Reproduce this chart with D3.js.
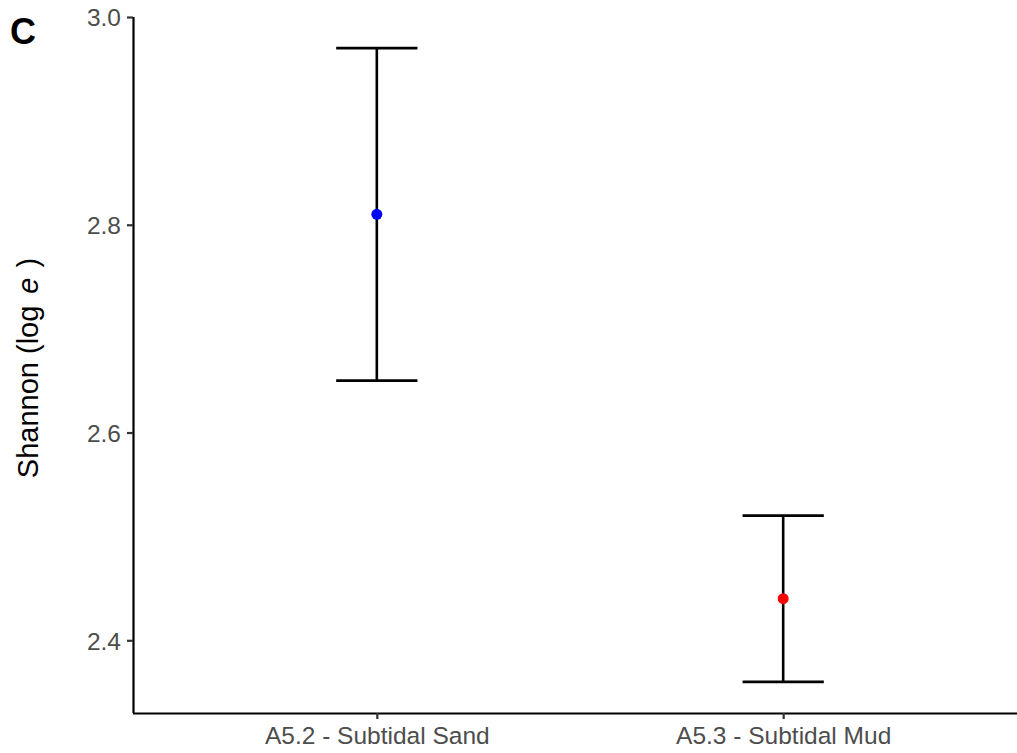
<!DOCTYPE html>
<html>
<head>
<meta charset="utf-8">
<script src="https://cdn.jsdelivr.net/npm/d3@7"></script>
<style>
  html, body { margin: 0; padding: 0; background: #fff; }
  svg { display: block; font-family: "Liberation Sans", Arial, sans-serif; }
</style>
</head>
<body>
<svg id="chart" width="1017" height="753"></svg>
<script>
// Shannon diversity by habitat: mean with lower/upper interval
const habitats = ["A5.2 - Subtidal Sand", "A5.3 - Subtidal Mud"];
const shannonMean = [2.81, 2.44];
const shannonLower = [2.65, 2.36];
const shannonUpper = [2.97, 2.52];
const pointColors = ["#0000FF", "#FF0000"];
const yTicks = [2.4, 2.6, 2.8, 3.0];

const W = 1017, H = 753;
const panel = { left: 133, top: 17, bottom: 713 };

const svg = d3.select("#chart");

// Discrete positions 1..n with 0.6 unit padding each side
const x = d3.scaleLinear().domain([0.4, habitats.length + 0.6]).range([panel.left, 1027]);
const y = d3.scaleLinear().domain([2.33, 3.0]).range([panel.bottom, panel.top]);

const capHalf = 0.1; // half-width of error bar caps, in category units

// Axes
const yAxis = svg.append("g")
  .attr("transform", `translate(${panel.left},0)`)
  .call(d3.axisLeft(y).tickValues(yTicks).tickFormat(d3.format(".1f")).tickSize(6).tickSizeOuter(0));
const xAxis = svg.append("g")
  .attr("transform", `translate(0,${panel.bottom})`)
  .call(d3.axisBottom(x).tickValues(habitats.map((d, i) => i + 1))
        .tickFormat((d, i) => habitats[i]).tickSize(6).tickSizeOuter(0));

[yAxis, xAxis].forEach(g => {
  g.select(".domain").attr("stroke", "#000").attr("stroke-width", 2.2);
  g.selectAll(".tick line").attr("stroke", "#333").attr("stroke-width", 2.2);
  g.selectAll(".tick text").attr("fill", "#4D4D4D").style("font-size", "24.5px");
});
yAxis.selectAll(".tick text").attr("x", -12).attr("dy", "0.36em");
xAxis.selectAll(".tick text").attr("y", 12).attr("dy", "0.76em");
// Extend axis lines to cover the full panel
yAxis.select(".domain").attr("d", `M0.5,${panel.top}V${panel.bottom}`);
xAxis.select(".domain").attr("d", `M${panel.left},0.5H${W}`);

// Error bars
const bars = svg.append("g").selectAll("g").data(habitats).join("g");
bars.append("line")
  .attr("x1", (d, i) => x(i + 1)).attr("x2", (d, i) => x(i + 1))
  .attr("y1", (d, i) => y(shannonLower[i])).attr("y2", (d, i) => y(shannonUpper[i]))
  .attr("stroke", "#000").attr("stroke-width", 2.6);
bars.append("line")
  .attr("x1", (d, i) => x(i + 1 - capHalf)).attr("x2", (d, i) => x(i + 1 + capHalf))
  .attr("y1", (d, i) => y(shannonUpper[i])).attr("y2", (d, i) => y(shannonUpper[i]))
  .attr("stroke", "#000").attr("stroke-width", 2.6);
bars.append("line")
  .attr("x1", (d, i) => x(i + 1 - capHalf)).attr("x2", (d, i) => x(i + 1 + capHalf))
  .attr("y1", (d, i) => y(shannonLower[i])).attr("y2", (d, i) => y(shannonLower[i]))
  .attr("stroke", "#000").attr("stroke-width", 2.6);

// Means
svg.append("g").selectAll("circle").data(habitats).join("circle")
  .attr("cx", (d, i) => x(i + 1))
  .attr("cy", (d, i) => y(shannonMean[i]))
  .attr("r", 5.5)
  .attr("fill", (d, i) => pointColors[i]);

// Y axis title
const yTitle = svg.append("text")
  .attr("transform", `translate(38,${(panel.top + panel.bottom) / 2 + 3}) rotate(-90)`)
  .attr("text-anchor", "middle")
  .style("font-size", "29px")
  .attr("fill", "#000");
yTitle.append("tspan").text("Shannon (log");
yTitle.append("tspan").attr("dx", 12).attr("font-style", "italic").text("e");
yTitle.append("tspan").attr("dx", 10).text(")");

// Panel tag
svg.append("text")
  .attr("x", 10).attr("y", 44)
  .style("font-size", "36px").style("font-weight", "bold")
  .attr("fill", "#000")
  .text("C");
</script>
</body>
</html>
